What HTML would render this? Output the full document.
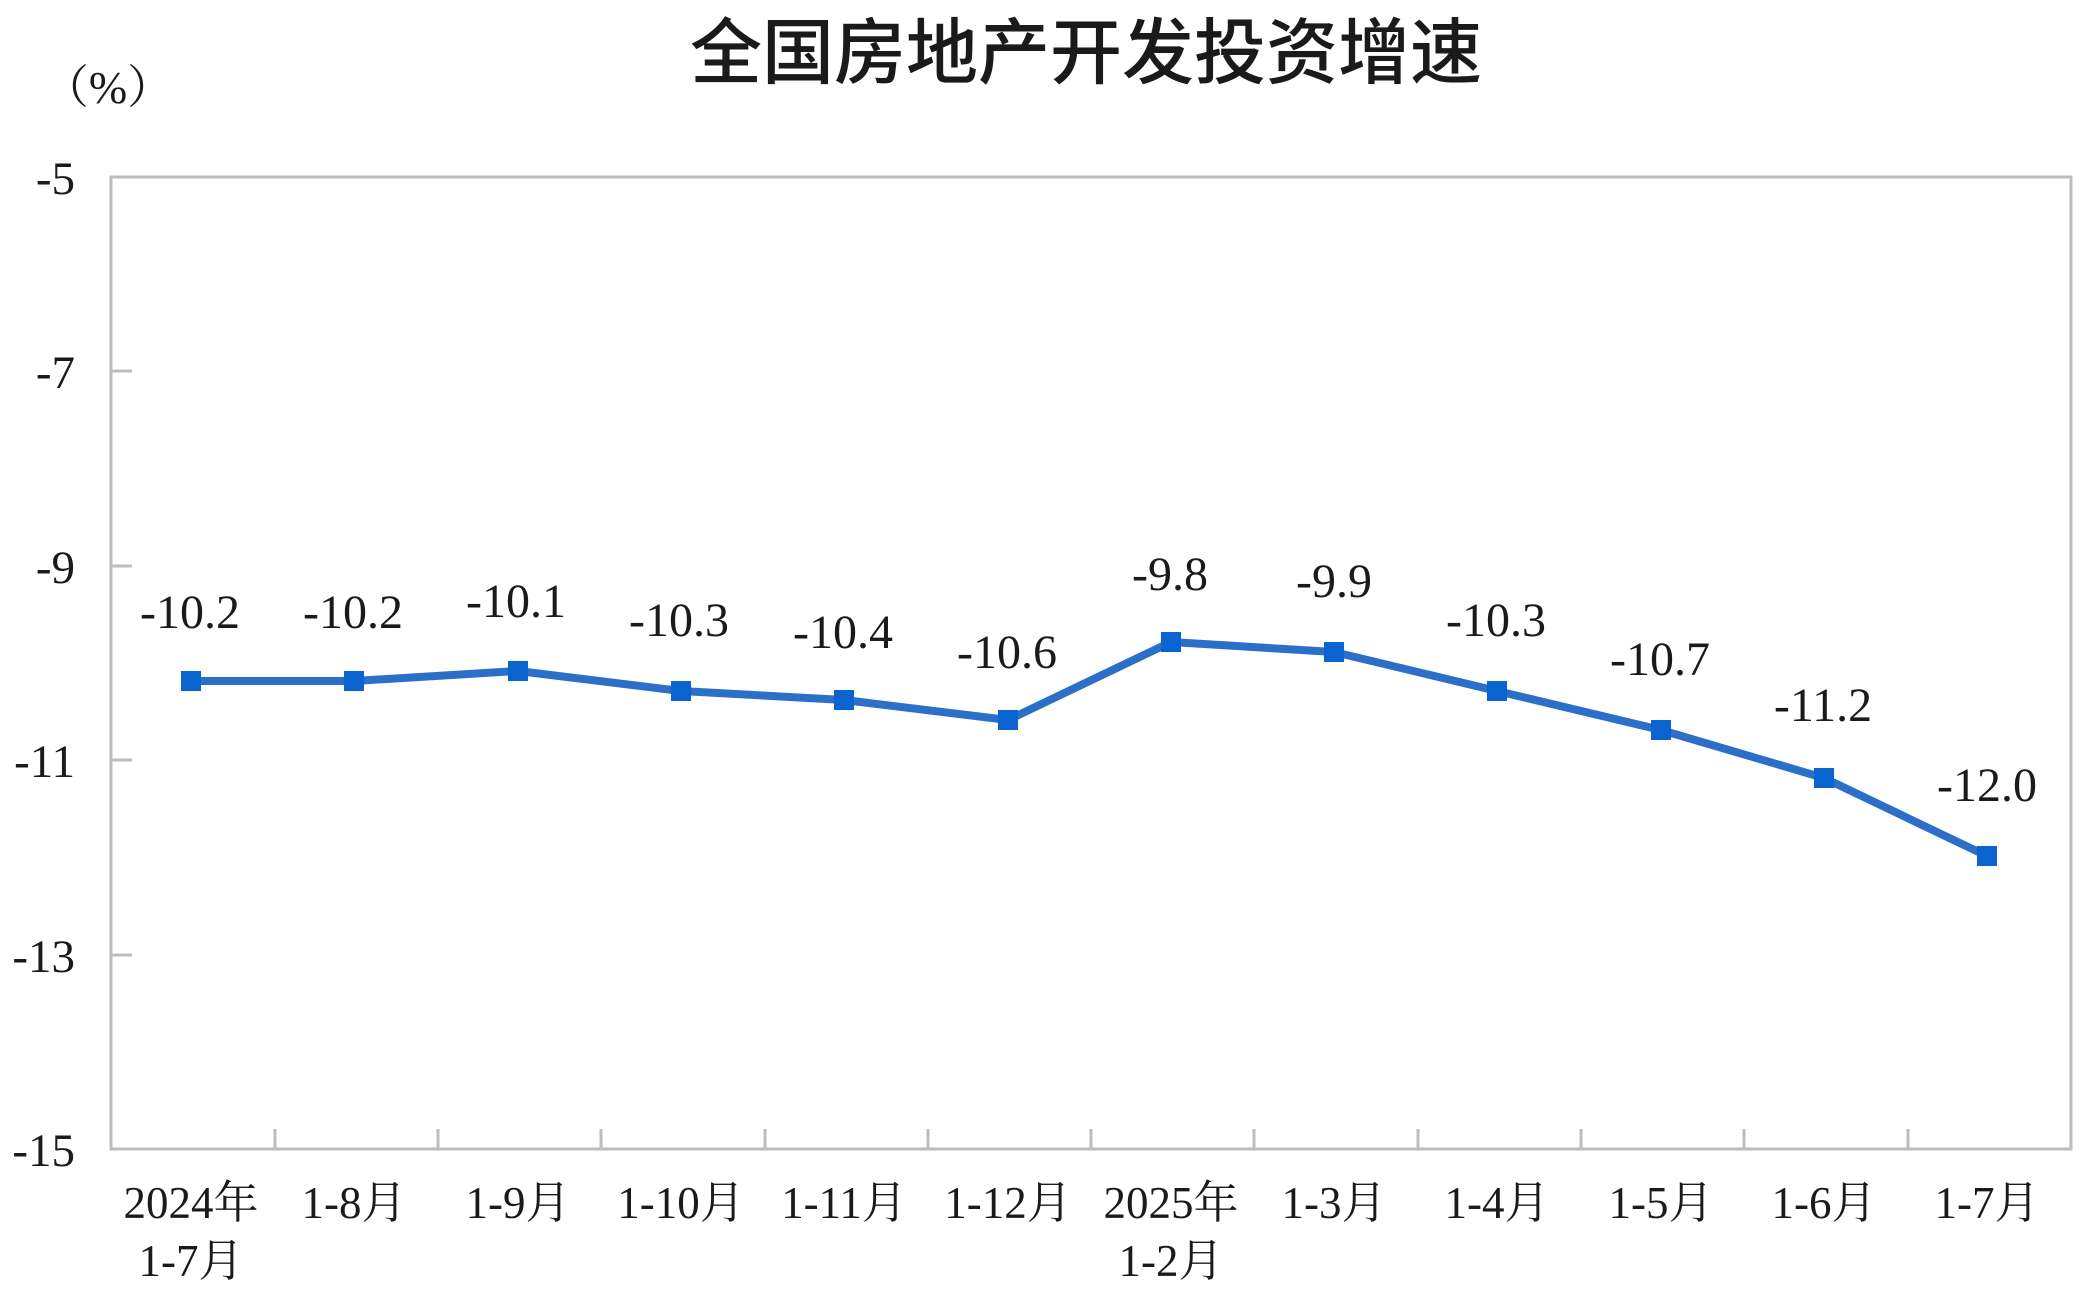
<!DOCTYPE html>
<html><head><meta charset="utf-8"><style>
html,body{margin:0;padding:0;background:#fff;}
svg{display:block;}
.s{font-family:"Liberation Serif","Noto Serif CJK SC",serif;fill:#1a1a1a;}
</style></head><body>
<svg width="2086" height="1308" viewBox="0 0 2086 1308" xmlns="http://www.w3.org/2000/svg">
<text x="1086" y="78" text-anchor="middle" font-family="'Noto Sans CJK SC','WenQuanYi Zen Hei',sans-serif" font-size="72" font-weight="500" fill="#1a1a1a">全国房地产开发投资增速</text>
<text class="s" x="108" y="103" text-anchor="middle" font-size="46">（%）</text>
<rect x="111" y="177" width="1960" height="972" fill="none" stroke="#bdbdbd" stroke-width="3"/>
<g stroke="#bdbdbd" stroke-width="3">
<line x1="111" y1="371" x2="132" y2="371"/><line x1="111" y1="566" x2="132" y2="566"/>
<line x1="111" y1="760" x2="132" y2="760"/><line x1="111" y1="955" x2="132" y2="955"/>
<line x1="275" y1="1129" x2="275" y2="1149"/><line x1="438" y1="1129" x2="438" y2="1149"/>
<line x1="601" y1="1129" x2="601" y2="1149"/><line x1="765" y1="1129" x2="765" y2="1149"/>
<line x1="928" y1="1129" x2="928" y2="1149"/><line x1="1091" y1="1129" x2="1091" y2="1149"/>
<line x1="1254" y1="1129" x2="1254" y2="1149"/><line x1="1418" y1="1129" x2="1418" y2="1149"/>
<line x1="1581" y1="1129" x2="1581" y2="1149"/><line x1="1744" y1="1129" x2="1744" y2="1149"/>
<line x1="1908" y1="1129" x2="1908" y2="1149"/>
</g>
<g class="s" font-size="47" text-anchor="end">
<text x="75" y="194">-5</text><text x="75" y="388">-7</text><text x="75" y="583">-9</text>
<text x="75" y="777">-11</text><text x="75" y="972">-13</text><text x="75" y="1166">-15</text>
</g>
<g class="s" font-size="45" text-anchor="middle">
<text x="191" y="1218">2024年</text><text x="191" y="1276">1-7月</text>
<text x="354" y="1218">1-8月</text><text x="518" y="1218">1-9月</text>
<text x="681" y="1218">1-10月</text><text x="844" y="1218">1-11月</text>
<text x="1008" y="1218">1-12月</text><text x="1171" y="1218">2025年</text><text x="1171" y="1276">1-2月</text>
<text x="1334" y="1218">1-3月</text><text x="1497" y="1218">1-4月</text>
<text x="1661" y="1218">1-5月</text><text x="1824" y="1218">1-6月</text><text x="1987" y="1218">1-7月</text>
</g>
<polyline fill="none" stroke="#2b6fc9" stroke-width="8" stroke-linejoin="round" points="191,681 354,681 518,671 681,691 844,700 1008,720 1171,642 1334,652 1497,691 1661,730 1824,778 1987,856"/>
<g fill="#0a64d0">
<rect x="181" y="671" width="20" height="20"/><rect x="344" y="671" width="20" height="20"/>
<rect x="508" y="661" width="20" height="20"/><rect x="671" y="681" width="20" height="20"/>
<rect x="834" y="690" width="20" height="20"/><rect x="998" y="710" width="20" height="20"/>
<rect x="1161" y="632" width="20" height="20"/><rect x="1324" y="642" width="20" height="20"/>
<rect x="1487" y="681" width="20" height="20"/><rect x="1651" y="720" width="20" height="20"/>
<rect x="1814" y="768" width="20" height="20"/><rect x="1977" y="846" width="20" height="20"/>
</g>
<g class="s" font-size="48" text-anchor="middle">
<text x="190" y="628">-10.2</text><text x="353" y="628">-10.2</text><text x="516" y="617">-10.1</text>
<text x="679" y="636">-10.3</text><text x="843" y="648">-10.4</text><text x="1007" y="668">-10.6</text>
<text x="1170" y="590">-9.8</text><text x="1334" y="597">-9.9</text><text x="1496" y="636">-10.3</text>
<text x="1660" y="675">-10.7</text><text x="1823" y="721">-11.2</text><text x="1987" y="801">-12.0</text>
</g>
</svg>
</body></html>
